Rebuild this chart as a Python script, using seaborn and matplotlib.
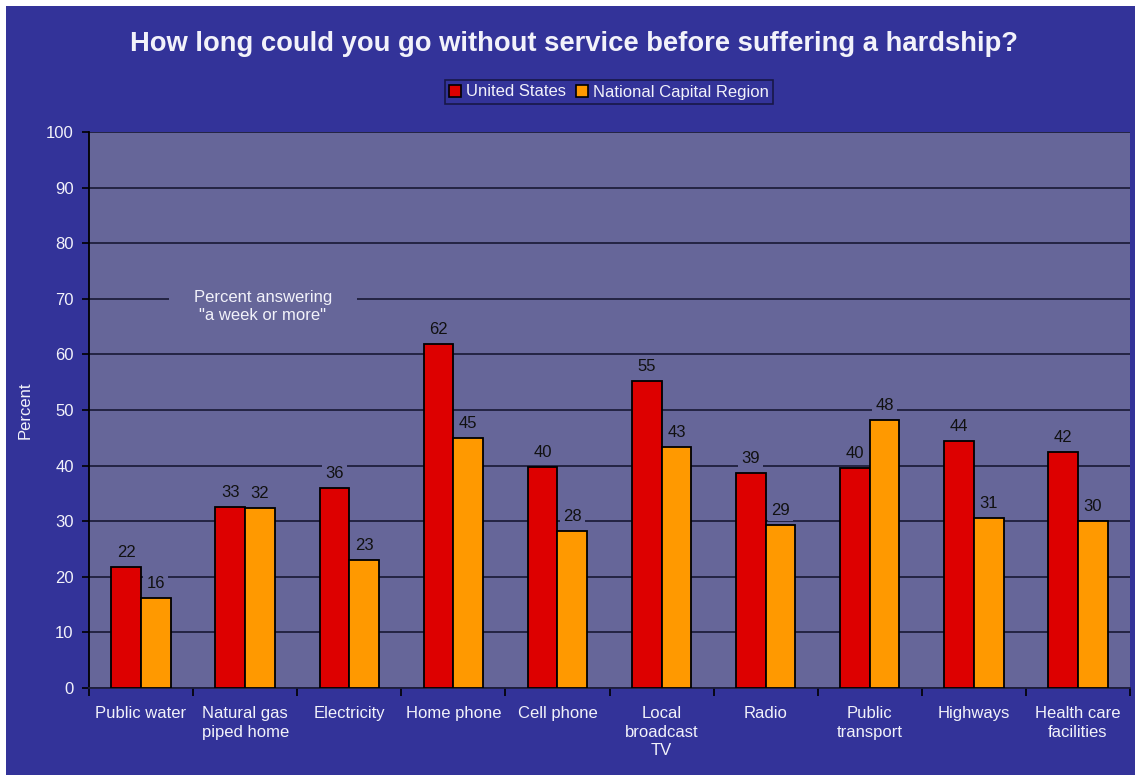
import matplotlib
matplotlib.use("Agg")
import matplotlib.pyplot as plt
import seaborn as sns
import pandas as pd
from matplotlib.patches import Rectangle

categories = ["Public water", "Natural gas\npiped home", "Electricity", "Home phone",
              "Cell phone", "Local\nbroadcast\nTV", "Radio", "Public\ntransport",
              "Highways", "Health care\nfacilities"]
us_values = [21.8, 32.6, 36.0, 61.9, 39.7, 55.2, 38.6, 39.6, 44.4, 42.4]
ncr_values = [16.2, 32.4, 23.0, 45.0, 28.2, 43.3, 29.3, 48.2, 30.5, 30.0]
us_labels = ["22", "33", "36", "62", "40", "55", "39", "40", "44", "42"]
ncr_labels = ["16", "32", "23", "45", "28", "43", "29", "48", "31", "30"]
series_names = ["United States", "National Capital Region"]
yticks = [0, 10, 20, 30, 40, 50, 60, 70, 80, 90, 100]

BLUE = "#333399"
PLOT = "#666699"
RED = "#DD0000"
ORANGE = "#FF9900"
WHITE = "#F2F2FA"

df = pd.DataFrame({
    "category": categories * 2,
    "series": [series_names[0]] * len(categories) + [series_names[1]] * len(categories),
    "value": us_values + ncr_values,
})

sns.set_theme(style="white")
plt.rcParams["font.family"] = ["Liberation Sans", "DejaVu Sans"]

fig = plt.figure(figsize=(11.35, 7.75), dpi=100)
fig.patch.set_facecolor("white")
fig.patches.append(Rectangle((6 / 1135, 0), 1 - 6 / 1135, 1 - 6 / 775,
                             transform=fig.transFigure, facecolor=BLUE,
                             edgecolor="none", zorder=-10))

ax = fig.add_axes([89 / 1135, (775 - 688) / 775, (1130 - 89) / 1135, (688 - 132) / 775])
ax.set_facecolor(PLOT)

sns.barplot(data=df, x="category", y="value", hue="series",
            palette=[RED, ORANGE], saturation=1, width=0.57, edgecolor="black",
            linewidth=1.3, ax=ax, legend=False, zorder=3)

ax.set_ylim(0, 100)
ax.set_xlim(-0.5, len(categories) - 0.5)
ax.set_yticks(yticks)
ax.yaxis.grid(True, color="#1E1E3C", linewidth=1.3, zorder=0)
ax.set_axisbelow(True)

for cont, labs in zip(ax.containers, [us_labels, ncr_labels]):
    ax.bar_label(cont, labels=labs, padding=5, fontsize=12, color="#111111",
                 bbox=dict(boxstyle="square,pad=0.2", facecolor=PLOT, edgecolor="none"),
                 zorder=4)

ax.text(1.17, 68.6, "Percent answering\n\"a week or more\"", ha="center", va="center",
        fontsize=12, color=WHITE, linespacing=1.25,
        bbox=dict(boxstyle="square,pad=1.5", facecolor=PLOT, edgecolor="none"), zorder=2)

for s in ["top", "right"]:
    ax.spines[s].set_visible(False)
ax.spines["left"].set_color("black")
ax.spines["left"].set_linewidth(1.3)
ax.spines["bottom"].set_color("#1E1E3C")
ax.spines["bottom"].set_linewidth(1.3)

ax.tick_params(axis="y", which="major", length=5, width=1.2, color="black",
               labelsize=12, labelcolor=WHITE, pad=6, left=True)
ax.set_xticks(range(len(categories)))
ax.set_xticklabels(categories, fontsize=12, color=WHITE, va="top", linespacing=1.3)
ax.tick_params(axis="x", which="major", length=0, pad=13)
ax.set_xticks([i - 0.5 for i in range(len(categories) + 1)], minor=True)
ax.tick_params(axis="x", which="minor", length=6, width=1.2, color="black", bottom=True)

ax.set_xlabel("")
ax.set_ylabel("Percent", fontsize=12, color=WHITE)
ax.yaxis.set_label_coords(-0.054, 0.5)

fig.text(574 / 1135, 1 - 44 / 775,
         "How long could you go without service before suffering a hardship?",
         ha="center", va="center", fontsize=19.7, fontweight="bold", color=WHITE)

handles = [Rectangle((0, 0), 1, 1, facecolor=c, edgecolor="black", linewidth=1.2)
           for c in [RED, ORANGE]]
leg = fig.legend(handles, series_names, loc="center",
                 bbox_to_anchor=(609 / 1135, 1 - 92 / 775), ncol=2, fontsize=12,
                 frameon=True, facecolor=BLUE, edgecolor="#111133", fancybox=False,
                 handlelength=0.7, handleheight=0.7, handletextpad=0.3,
                 columnspacing=0.6, borderpad=0.25, borderaxespad=0)
leg.get_frame().set_linewidth(1.2)
for t in leg.get_texts():
    t.set_color(WHITE)

fig.savefig("out.png", dpi=100, facecolor=fig.get_facecolor())
